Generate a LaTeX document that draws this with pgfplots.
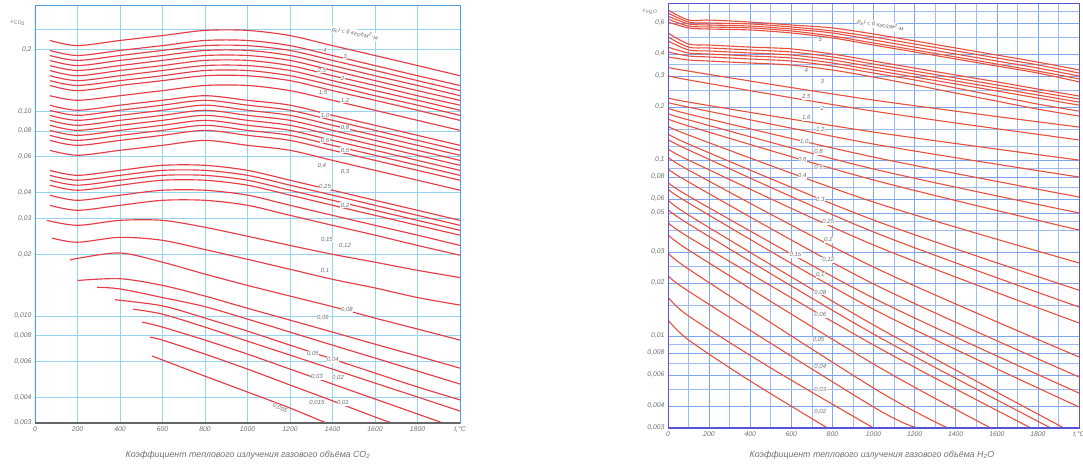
\documentclass[border=0pt]{standalone}
\usepackage{fontspec}
\setmainfont{Liberation Sans}
\usepackage{pgfplots}
\usepackage{pgfplotstable}
\pgfplotsset{compat=1.18}

\definecolor{curve}{RGB}{230,60,70}
\definecolor{curveR}{RGB}{232,80,60}
\definecolor{gridL}{RGB}{150,212,240}
\definecolor{frameL}{RGB}{80,155,230}
\definecolor{gridR}{RGB}{125,165,240}
\definecolor{frameR}{RGB}{85,85,210}
\definecolor{txt}{RGB}{110,110,110}

% CO2, upper group (t, one column per curve)
\pgfplotstableread{
t c1 c2 c3 c4 c5 c6 c7 c8 c9 c10
70 0.2215 0.198 0.187 0.177 0.167 0.158 0.149 0.141 0.1335 0.119
200 0.209 0.187 0.177 0.167 0.158 0.149 0.141 0.1335 0.126 0.113
400 0.2215 0.198 0.187 0.177 0.167 0.158 0.149 0.141 0.1335 0.119
600 0.234 0.209 0.198 0.187 0.177 0.167 0.158 0.149 0.141 0.126
800 0.248 0.2215 0.209 0.198 0.187 0.177 0.167 0.158 0.149 0.1335
1000 0.248 0.2215 0.209 0.198 0.187 0.177 0.167 0.158 0.149 0.1335
1200 0.234 0.209 0.198 0.187 0.177 0.167 0.158 0.149 0.141 0.126
1400 0.209 0.187 0.177 0.167 0.158 0.149 0.141 0.1335 0.126 0.113
1600 0.187 0.167 0.158 0.149 0.141 0.1335 0.126 0.119 0.113 0.101
1800 0.167 0.149 0.141 0.1335 0.126 0.119 0.113 0.107 0.101 0.0902
2000 0.149 0.1335 0.126 0.119 0.113 0.107 0.101 0.0954 0.0902 0.0806
}\tabA

% CO2, middle group
\pgfplotstableread{
t c1 c2 c3 c4 c5 c6 c7 c8 c9
70 0.107 0.101 0.0954 0.0902 0.0853 0.0806 0.0762 0.0720 0.0644
200 0.101 0.0954 0.0902 0.0853 0.0806 0.0762 0.0720 0.0681 0.0609
400 0.107 0.101 0.0954 0.0902 0.0853 0.0806 0.0762 0.0720 0.0644
600 0.113 0.107 0.101 0.0954 0.0902 0.0853 0.0806 0.0762 0.0681
800 0.119 0.113 0.107 0.101 0.0954 0.0902 0.0853 0.0806 0.0720
1000 0.113 0.107 0.101 0.0954 0.0902 0.0853 0.0806 0.0762 0.0681
1200 0.107 0.101 0.0954 0.0902 0.0853 0.0806 0.0762 0.0720 0.0644
1400 0.0954 0.0902 0.0853 0.0806 0.0762 0.0720 0.0681 0.0644 0.0575
1600 0.0853 0.0806 0.0762 0.0720 0.0681 0.0644 0.0609 0.0575 0.0514
1800 0.0762 0.0720 0.0681 0.0644 0.0609 0.0575 0.0544 0.0514 0.0460
2000 0.0681 0.0644 0.0609 0.0575 0.0544 0.0514 0.0486 0.0460 0.0411
}\tabB

% CO2, lower group
\pgfplotstableread{
t c1 c2 c3 c4 c5 c6
70 0.0514 0.0486 0.0460 0.0435 0.0389 0.0347
200 0.0486 0.0460 0.0435 0.0411 0.0367 0.0328
400 0.0514 0.0486 0.0460 0.0435 0.0389 0.0347
600 0.0544 0.0514 0.0486 0.0460 0.0411 0.0367
800 0.0544 0.0514 0.0486 0.0460 0.0411 0.0367
1000 0.0514 0.0486 0.0460 0.0435 0.0389 0.0347
1200 0.0460 0.0435 0.0411 0.0389 0.0347 0.0310
1400 0.0411 0.0389 0.0367 0.0347 0.0310 0.0277
1600 0.0367 0.0347 0.0328 0.0310 0.0277 0.0248
1800 0.0328 0.0310 0.0293 0.0277 0.0248 0.0221
2000 0.0293 0.0277 0.0262 0.0248 0.0221 0.0198
}\tabC

% H2O, top group
\pgfplotstableread{
t c1 c2 c3 c4 c5
0 0.711 0.684 0.657 0.632 0.608
100 0.624 0.608 0.593 0.577 0.563
200 0.624 0.600 0.585 0.570 0.555
400 0.608 0.593 0.577 0.563 0.548
600 0.585 0.570 0.555 0.541 0.527
800 0.563 0.541 0.527 0.506 0.494
1000 0.520 0.500 0.481 0.462 0.450
1200 0.475 0.456 0.438 0.422 0.411
1400 0.433 0.417 0.400 0.385 0.375
1600 0.395 0.380 0.365 0.351 0.342
1800 0.360 0.347 0.333 0.320 0.312
2000 0.325 0.312 0.300 0.289 0.278
}\tabRA

% H2O, second group
\pgfplotstableread{
t c1 c2 c3 c4 c5 c6
0 0.527 0.500 0.475 0.438 0.411 0.385
100 0.456 0.438 0.422 0.4055 0.390 0.370
200 0.450 0.433 0.4165 0.400 0.385 0.365
400 0.438 0.422 0.4055 0.390 0.375 0.3557
600 0.428 0.411 0.395 0.380 0.365 0.3465
800 0.400 0.385 0.370 0.3557 0.342 0.3246
1000 0.365 0.351 0.3375 0.3246 0.312 0.296
1200 0.333 0.320 0.308 0.296 0.285 0.267
1400 0.304 0.2925 0.281 0.2705 0.2566 0.240
1600 0.278 0.267 0.2566 0.2467 0.231 0.216
1800 0.253 0.2435 0.234 0.2248 0.2077 0.1945
2000 0.231 0.222 0.2133 0.205 0.1895 0.1777
}\tabRB

\pgfplotsset{
  cl/.style={curve, line width=1.15pt, smooth},
  cr/.style={curveR, line width=1.1pt, smooth},
}
\tikzset{
  lab/.style={font=\fontsize{6}{6.5}\selectfont\itshape, text=txt, fill=white, inner sep=0.4pt},
}

\begin{document}
\begin{tikzpicture}[x=1pt,y=1pt]
\useasboundingbox (0,0) rectangle (1083,474);

% ---------- CO2 ----------
\begin{axis}[
  ymode=log,
  scale only axis, anchor=south west,
  at={(35pt,51pt)}, width=425pt, height=418pt,
  xmin=0, xmax=2000, ymin=0.003, ymax=0.33,
  xtick={0,200,...,2000},
  xticklabels={0,200,400,600,800,1000,1200,1400,1600,1800,{t,°C}},
  ytick={0.003,0.004,0.006,0.008,0.01,0.02,0.03,0.04,0.06,0.08,0.1,0.2},
  yticklabels={{0,003},{0,004},{0,006},{0,008},{0,010},{0,02},{0,03},{0,04},{0,06},{0,08},{0,10},{0,2}},
  minor ytick={0.25},
  tick style={draw=none},
  ticklabel style={font=\fontsize{6.8}{7}\selectfont\itshape, text=txt},
  grid=both,
  major grid style={gridL, line width=0.6pt},
  minor grid style={gridL, line width=0.6pt},
  axis line style={frameL, line width=0.8pt},
]
\pgfplotsinvokeforeach{1,...,10}{\addplot[cl] table[x=t,y=c#1]{\tabA};}
\pgfplotsinvokeforeach{1,...,9}{\addplot[cl] table[x=t,y=c#1]{\tabB};}
\pgfplotsinvokeforeach{1,...,6}{\addplot[cl] table[x=t,y=c#1]{\tabC};}
\addplot[cl] coordinates {(55,0.0293)(200,0.0277)(400,0.0293)(600,0.0293)(800,0.0271)(1000,0.0245)(1200,0.0221)(1400,0.0200)(1600,0.0183)(1800,0.0167)(2000,0.0154)};
\addplot[cl] coordinates {(80,0.0240)(200,0.0229)(400,0.0242)(600,0.0234)(800,0.0211)(1000,0.0189)(1200,0.0169)(1400,0.0151)(1600,0.0137)(1800,0.0123)(2000,0.0113)};
\addplot[cl] coordinates {(165,0.0187)(200,0.0191)(400,0.0203)(600,0.0183)(800,0.0160)(1000,0.0141)(1200,0.0125)(1400,0.0111)(1600,0.00976)(1800,0.00863)(2000,0.00762)};
\addplot[cl] coordinates {(200,0.0149)(400,0.0152)(600,0.0141)(800,0.0125)(1000,0.0109)(1200,0.00954)(1400,0.00834)(1600,0.00728)(1800,0.00637)(2000,0.00556)};
\addplot[cl] coordinates {(292,0.0138)(400,0.01355)(600,0.0123)(800,0.0111)(1000,0.00965)(1200,0.00834)(1400,0.00720)(1600,0.00623)(1800,0.00538)(2000,0.00465)};
\addplot[cl] coordinates {(376,0.0120)(600,0.0112)(800,0.00976)(1000,0.00843)(1200,0.00720)(1400,0.00616)(1600,0.00526)(1800,0.00450)(2000,0.00389)};
\addplot[cl] coordinates {(461,0.0108)(600,0.0102)(800,0.00882)(1000,0.00753)(1200,0.00644)(1400,0.00550)(1600,0.00470)(1800,0.00402)(2000,0.00343)};
\addplot[cl] coordinates {(504,0.00933)(600,0.00882)(800,0.00762)(1000,0.00651)(1200,0.00550)(1400,0.00465)(1600,0.00393)(1800,0.00332)(1920,0.0030)};
\addplot[cl] coordinates {(541,0.00788)(600,0.00762)(800,0.00651)(1000,0.00550)(1200,0.00460)(1400,0.00385)(1600,0.00321)(1680,0.0030)};
\addplot[cl] coordinates {(551,0.00637)(800,0.00508)(1000,0.00425)(1200,0.00355)(1370,0.0030)};

\node[lab, rotate=-11] at (axis cs:1506,0.240) {p\textsubscript{c}l = 6 кгс/см\textsuperscript{2}·м};
\node[lab] at (axis cs:1365,0.198) {4};
\node[lab] at (axis cs:1459,0.185) {3};
\node[lab] at (axis cs:1350,0.158) {2,5};
\node[lab] at (axis cs:1449,0.144) {2};
\node[lab] at (axis cs:1355,0.123) {1,5};
\node[lab] at (axis cs:1459,0.113) {1,2};
\node[lab] at (axis cs:1365,0.0954) {1,0};
\node[lab] at (axis cs:1459,0.0825) {0,8};
\node[lab] at (axis cs:1365,0.0720) {0,6};
\node[lab] at (axis cs:1459,0.0644) {0,5};
\node[lab] at (axis cs:1350,0.0544) {0,4};
\node[lab] at (axis cs:1459,0.0503) {0,3};
\node[lab] at (axis cs:1365,0.0427) {0,25};
\node[lab] at (axis cs:1459,0.0347) {0,2};
\node[lab] at (axis cs:1374,0.0236) {0,15};
\node[lab] at (axis cs:1459,0.0221) {0,12};
\node[lab] at (axis cs:1365,0.0167) {0,1};
\node[lab] at (axis cs:1468,0.0107) {0,08};
\node[lab] at (axis cs:1355,0.00976) {0,06};
\node[lab] at (axis cs:1308,0.00651) {0,05};
\node[lab] at (axis cs:1402,0.00609) {0,04};
\node[lab] at (axis cs:1327,0.00504) {0,03};
\node[lab] at (axis cs:1426,0.00500) {0,02};
\node[lab] at (axis cs:1327,0.00375) {0,015};
\node[lab] at (axis cs:1449,0.00375) {0,01};
\node[lab, rotate=-25] at (axis cs:1153,0.00354) {0,005};
\draw[frameL, line width=1.6pt] (rel axis cs:0,0) -- (rel axis cs:0,1);
\draw[black!60, line width=1.2pt] (rel axis cs:0,0) -- (rel axis cs:1,0);
\end{axis}

% ---------- H2O ----------
\begin{axis}[
  ymode=log,
  scale only axis, anchor=south west,
  at={(668pt,46pt)}, width=411pt, height=425pt,
  xmin=0, xmax=2000, ymin=0.003, ymax=0.78,
  xtick={0,200,...,2000},
  xticklabels={0,200,400,600,800,1000,1200,1400,1600,1800,{t,°C}},
  ytick={0.003,0.004,0.006,0.008,0.01,0.02,0.03,0.05,0.06,0.08,0.1,0.2,0.3,0.4,0.6},
  yticklabels={{0,003},{0,004},{0,006},{0,008},{0,01},{0,02},{0,03},{0,05},{0,06},{0,08},{0,1},{0,2},{0,3},{0,4},{0,6}},
  minor ytick={0.005,0.007,0.009,0.015,0.025,0.04,0.045,0.07,0.09,0.12,0.15,0.25,0.35,0.5,0.7},
  minor xtick={100,300,...,1900},
  tick style={draw=none},
  ticklabel style={font=\fontsize{6.8}{7}\selectfont\itshape, text=txt},
  grid=both,
  major grid style={gridR, line width=0.6pt},
  minor grid style={gridR!75, line width=0.55pt},
  axis line style={frameR, line width=0.9pt},
]
\pgfplotsinvokeforeach{1,...,5}{\addplot[cr] table[x=t,y=c#1]{\tabRA};}
\pgfplotsinvokeforeach{1,...,6}{\addplot[cr] table[x=t,y=c#1]{\tabRB};}
\addplot[cr] coordinates {(0,0.3376)(100,0.320)(1000,0.219)(2000,0.1539)};
\addplot[cr] coordinates {(0,0.304)(100,0.285)(1000,0.1895)(2000,0.130)};
\addplot[cr] coordinates {(0,0.228)(100,0.2133)(1000,0.1442)(2000,0.0999)};
\addplot[cr] coordinates {(0,0.2133)(100,0.1997)(1000,0.1232)(2000,0.0800)};
\addplot[cr] coordinates {(0,0.1997)(100,0.1824)(1000,0.1039)(2000,0.0616)};
\addplot[cr] coordinates {(0,0.1848)(100,0.169)(1000,0.0889)(2000,0.0500)};
\addplot[cr] coordinates {(0,0.1735)(100,0.156)(1000,0.0770)(2000,0.0400)};
\addplot[cr] coordinates {(0,0.158)(100,0.1386)(1000,0.0577)(2000,0.0260)};
\addplot[cr] coordinates {(0,0.1442)(100,0.1232)(1000,0.0456)(2000,0.0182)};
\addplot[cr] coordinates {(0,0.1334)(100,0.114)(1000,0.0390)(2000,0.01461)};
\addplot[cr] coordinates {(0,0.1185)(100,0.0999)(1000,0.0329)(2000,0.01186)};
\addplot[cr] coordinates {(0,0.1067)(100,0.0877)(1000,0.02465)(2000,0.00760)};
\addplot[cr] coordinates {(0,0.0912)(100,0.0750)(1000,0.01976)(2000,0.00585)};
\addplot[cr] coordinates {(0,0.0770)(100,0.0624)(1000,0.01642)(2000,0.00474)};
\addplot[cr] coordinates {(0,0.0702)(100,0.0570)(1000,0.01419)(2000,0.00395)};
\addplot[cr] coordinates {(0,0.0616)(100,0.0487)(1000,0.01155)(1927,0.003)};
\addplot[cr] coordinates {(0,0.0541)(100,0.0433)(1000,0.01026)(1863,0.003)};
\addplot[cr] coordinates {(0,0.0456)(100,0.0365)(1000,0.00889)(1766,0.003)};
\addplot[cr] coordinates {(0,0.0390)(100,0.0308)(1000,0.00693)(1571,0.003)};
\addplot[cr] coordinates {(0,0.0308)(100,0.0240)(1000,0.00506)(1361,0.003)};
\addplot[cr] coordinates {(0,0.0228)(100,0.01796)(1000,0.00395)(1215,0.003)};
\addplot[cr] coordinates {(0,0.01666)(100,0.01299)(500,0.00658)(1000,0.003)};
\addplot[cr] coordinates {(0,0.01233)(100,0.00949)(400,0.00555)(776,0.003)};

\node[lab, rotate=-9] at (axis cs:1034,0.585) {p\textsubscript{в}l = 6 кгс/см\textsuperscript{2}·м};
\node[lab] at (axis cs:741,0.481) {5};
\node[lab] at (axis cs:673,0.3246) {4};
\node[lab] at (axis cs:751,0.278) {3};
\node[lab] at (axis cs:673,0.228) {2,5};
\node[lab] at (axis cs:751,0.197) {2};
\node[lab] at (axis cs:673,0.1735) {1,6};
\node[lab] at (axis cs:741,0.148) {1,2};
\node[lab] at (axis cs:663,0.1266) {1,0};
\node[lab] at (axis cs:732,0.111) {0,8};
\node[lab] at (axis cs:654,0.0999) {0,6};
\node[lab] at (axis cs:732,0.0900) {0,5};
\node[lab] at (axis cs:654,0.0810) {0,4};
\node[lab] at (axis cs:741,0.0592) {0,3};
\node[lab] at (axis cs:780,0.0444) {0,25};
\node[lab] at (axis cs:780,0.0351) {0,2};
\node[lab] at (axis cs:620,0.0288) {0,15};
\node[lab] at (axis cs:780,0.0270) {0,12};
\node[lab] at (axis cs:741,0.0222) {0,1};
\node[lab] at (axis cs:741,0.0177) {0,08};
\node[lab] at (axis cs:741,0.01316) {0,06};
\node[lab] at (axis cs:732,0.00949) {0,05};
\node[lab] at (axis cs:741,0.00666) {0,04};
\node[lab] at (axis cs:741,0.00493) {0,03};
\node[lab] at (axis cs:741,0.00372) {0,02};
\draw[frameR, line width=1.6pt] (rel axis cs:0,0) -- (rel axis cs:0,1);
\draw[frameR, line width=1.6pt] (rel axis cs:0,0) -- (rel axis cs:1,0);
\end{axis}

\node[font=\fontsize{7}{8}\selectfont, text=txt] at (18,451) {$\varepsilon_{\mathrm{CO_2}}$};
\node[font=\fontsize{7}{8}\selectfont, text=txt] at (650,462) {$\varepsilon_{\mathrm{H_2O}}$};
\node[font=\fontsize{8.8}{10}\selectfont\itshape, text=txt] at (248,19) {Коэффициент теплового излучения газового объёма СО\textsubscript{2}};
\node[font=\fontsize{8.8}{10}\selectfont\itshape, text=txt] at (872,19) {Коэффициент теплового излучения газового объёма Н\textsubscript{2}О};
\end{tikzpicture}
\end{document}
